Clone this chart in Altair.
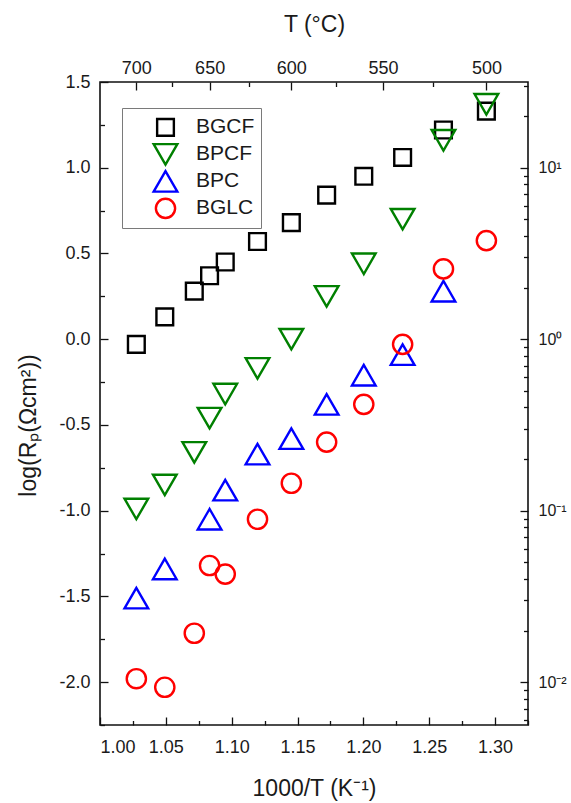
import altair as alt
import pandas as pd

# Series definitions
series = ["BGCF", "BPCF", "BPC", "BGLC"]
colors = ["#000000", "#008000", "#0000ff", "#ff0000"]
shapes = ["square", "triangle-down", "triangle-up", "circle"]
sizes = [280, 560, 560, 370]

# 1000/T positions (K^-1)
inv_t_full = [1.0276, 1.0492, 1.0716, 1.0832, 1.0951, 1.1196,
              1.1453, 1.1721, 1.2003, 1.2298, 1.2608, 1.2934]
inv_t_bpc = [1.0276, 1.0492, 1.0832, 1.0951, 1.1196,
             1.1453, 1.1721, 1.2003, 1.2298, 1.2608]

# log(Rp) values
log_rp_bgcf = [-0.03, 0.13, 0.28, 0.37, 0.45, 0.57, 0.68, 0.84, 0.95, 1.06, 1.22, 1.33]
log_rp_bpcf = [-0.99, -0.85, -0.66, -0.46, -0.32, -0.17, 0.00, 0.25, 0.44, 0.70, 1.16, 1.37]
log_rp_bpc = [-1.51, -1.34, -1.05, -0.88, -0.67, -0.58, -0.38, -0.21, -0.09, 0.28]
log_rp_bglc = [-1.98, -2.03, -1.715, -1.32, -1.37, -1.05, -0.84, -0.60, -0.38, -0.03, 0.41, 0.575]

# Axis tick definitions
x_major = [1.00, 1.05, 1.10, 1.15, 1.20, 1.25, 1.30]
x_minor = [1.025, 1.075, 1.125, 1.175, 1.225, 1.275, 1.325]
y_major = [-2.0, -1.5, -1.0, -0.5, 0.0, 0.5, 1.0, 1.5]
y_minor = [-2.25, -1.75, -1.25, -0.75, -0.25, 0.25, 0.75, 1.25]
t_major = [700, 650, 600, 550, 500]
t_minor = [675, 625, 575, 525]
decades = [-2, -1, 0, 1]

rows = []
for name, xs, ys in [("BGCF", inv_t_full, log_rp_bgcf),
                     ("BPCF", inv_t_full, log_rp_bpcf),
                     ("BPC", inv_t_bpc, log_rp_bpc),
                     ("BGLC", inv_t_full, log_rp_bglc)]:
    for xv, yv in zip(xs, ys):
        rows.append({"series": name, "inv_t": xv, "log_rp": yv})
df = pd.DataFrame(rows)

X_DOM = [1.0, 1.325]
Y_DOM = [-2.25, 1.5]
RP_DOM = [10 ** Y_DOM[0], 10 ** Y_DOM[1]]

top_major_pos = [1000.0 / (t + 273.15) for t in t_major]
top_minor_pos = [1000.0 / (t + 273.15) for t in t_minor]
rp_major = [10.0 ** d for d in decades]
rp_minor = [k * 10.0 ** d for d in range(-3, 2) for k in range(2, 10)
            if RP_DOM[0] <= k * 10.0 ** d <= RP_DOM[1]]

FONT = "Liberation Sans"
MAJ = 8
MIN = 4.5
TEXT = "#1a1a1a"


def size_expr(key):
    """Per-series symbol area as a Vega expression."""
    parts = " : ".join(f"{key} == '{s}' ? {v}" for s, v in zip(series, sizes))
    return parts + " : 400"


def x_sc():
    return alt.Scale(domain=X_DOM, nice=False, zero=False)


def y_sc():
    return alt.Scale(domain=Y_DOM, nice=False, zero=False)


def rp_sc():
    return alt.Scale(type="log", domain=RP_DOM, nice=False)


def minor_axis(orient, values, size):
    return alt.Axis(orient=orient, values=values, tickSize=size, offset=-size,
                    labels=False, title=None, domain=False, grid=False)


legend = alt.Legend(
    orient="none", legendX=22, legendY=26, title=None,
    strokeColor="#7a7a7a", fillColor="white", padding=6,
    symbolOffset=26, labelOffset=19, rowPadding=0, clipHeight=26.7,
    labelFont=FONT, labelFontSize=21, labelColor=TEXT,
    symbolStrokeWidth=2.4,
    symbolSize=alt.ExprRef(size_expr("datum.value")),
)

points = alt.Chart(df).transform_calculate(
    sym_size=size_expr("datum.series")
).mark_point(filled=False, strokeWidth=2.4, opacity=1).encode(
    x=alt.X("inv_t:Q", scale=x_sc(), axis=alt.Axis(
        orient="bottom", values=x_major, format=".2f",
        tickSize=MAJ, offset=-MAJ, labelPadding=13,
        title="1000/T (K⁻¹)", titlePadding=21)),
    y=alt.Y("log_rp:Q", scale=y_sc(), axis=alt.Axis(
        orient="left", values=y_major,
        labelExpr="replace(format(datum.value, '.1f'), '−', '-')",
        tickSize=MAJ, offset=-MAJ, labelPadding=10,
        title="log(Rₚ(Ωcm²))", titleX=-80, titleY=343,
        titleBaseline="middle", titleAlign="center", titleAngle=270)),
    color=alt.Color("series:N", scale=alt.Scale(domain=series, range=colors), legend=legend),
    shape=alt.Shape("series:N", scale=alt.Scale(domain=series, range=shapes), legend=legend),
    size=alt.Size("sym_size:Q", scale=None, legend=None),
)

minor_bl = alt.Chart(df).mark_point(opacity=0).encode(
    x=alt.X("inv_t:Q", scale=x_sc(), axis=minor_axis("bottom", x_minor, MIN)),
    y=alt.Y("log_rp:Q", scale=y_sc(), axis=minor_axis("left", y_minor, MIN)),
)

major_tr = alt.Chart(df).transform_calculate(
    rp="pow(10, datum.log_rp)"
).mark_point(opacity=0).encode(
    x=alt.X("inv_t:Q", scale=x_sc(), axis=alt.Axis(
        orient="top", values=top_major_pos,
        labelExpr="format(1000 / datum.value - 273.15, '.0f')",
        tickSize=MAJ, offset=-MAJ, labelPadding=5,
        title="T (°C)", titlePadding=23)),
    y=alt.Y("rp:Q", scale=rp_sc(), axis=alt.Axis(
        orient="right", values=rp_major,
        labelExpr="['10⁻²', '10⁻¹', '10⁰', '10¹'][round(log(datum.value) / LN10) + 2]",
        labelFontSize=16, tickSize=MAJ, offset=-MAJ, labelPadding=10, title=None)),
)

minor_tr = alt.Chart(df).transform_calculate(
    rp="pow(10, datum.log_rp)"
).mark_point(opacity=0).encode(
    x=alt.X("inv_t:Q", scale=x_sc(), axis=minor_axis("top", top_minor_pos, MIN)),
    y=alt.Y("rp:Q", scale=rp_sc(), axis=minor_axis("right", rp_minor, MIN)),
)

chart = alt.layer(points, minor_bl, major_tr, minor_tr).resolve_scale(
    x="independent", y="independent"
).resolve_axis(
    x="independent", y="independent"
).properties(
    width=428, height=643,
    autosize=alt.AutoSizeParams(type="none"),
    padding={"left": 100, "top": 82, "right": 43, "bottom": 78},
    background="white",
).configure_view(
    stroke="#111111", strokeWidth=1.6,
).configure_axis(
    domain=False, grid=False,
    tickColor="#111111", tickWidth=1.3,
    labelFont=FONT, labelFontSize=18, labelColor=TEXT,
    titleFont=FONT, titleFontSize=23, titleFontWeight="normal", titleColor=TEXT,
)

chart.save("out.html", embed_options={"renderer": "svg", "actions": False})
